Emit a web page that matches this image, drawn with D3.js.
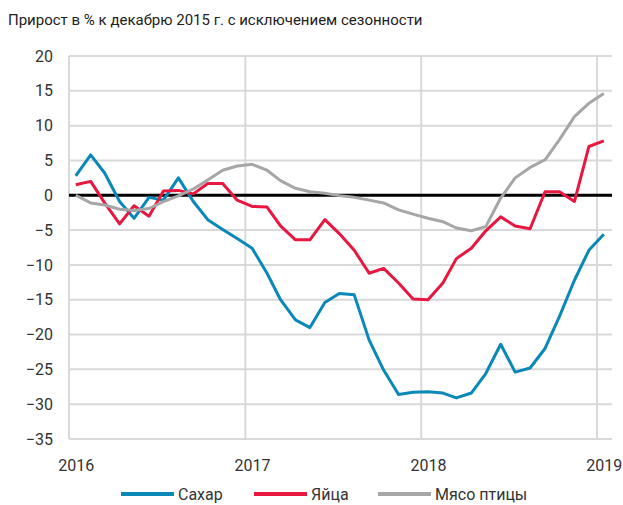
<!DOCTYPE html>
<html>
<head>
<meta charset="utf-8">
<script src="https://cdn.jsdelivr.net/npm/d3@7"></script>
<style>
  body { margin: 0; background: #fff; }
  svg { display: block; font-family: Roboto, "Noto Sans", sans-serif; }
</style>
</head>
<body>
<div id="chart"></div>
<script>
// monthly points, Jan 2016 .. Jan 2019
const months = d3.range(37).map(i => new Date(2016, i, 15));

const sugar = [2.8, 5.8, 3.2, -0.9, -3.3, -0.3, -0.7, 2.5, -0.9, -3.5, -4.9, -6.2,
  -7.6, -11.2, -15.0, -17.9, -19.0, -15.4, -14.1, -14.3, -20.8, -25.1, -28.6, -28.3,
  -28.2, -28.4, -29.1, -28.4, -25.6, -21.4, -25.4, -24.8, -22.0, -17.4, -12.2, -7.9, -5.6];
const eggs = [1.5, 2.0, -1.1, -4.1, -1.5, -3.0, 0.6, 0.7, 0.2, 1.7, 1.7, -0.7,
  -1.6, -1.7, -4.4, -6.4, -6.4, -3.5, -5.5, -7.9, -11.2, -10.5, -12.6, -14.9,
  -15.0, -12.6, -9.1, -7.6, -5.1, -3.1, -4.4, -4.8, 0.5, 0.5, -0.9, 7.0, 7.8];
const poultry = [0.0, -1.1, -1.4, -2.0, -2.2, -1.9, -0.9, -0.1, 0.9, 2.2, 3.6, 4.2,
  4.45, 3.6, 2.1, 1.0, 0.5, 0.3, -0.05, -0.3, -0.7, -1.1, -2.1, -2.7,
  -3.3, -3.8, -4.7, -5.1, -4.5, -0.4, 2.5, 4.0, 5.1, 8.0, 11.3, 13.2, 14.6];

const seriesNames = ["Сахар", "Яйца", "Мясо птицы"];
const seriesColors = ["#0a88b8", "#e8173f", "#a6a6a6"];
const yTicks = d3.range(-35, 21, 5);
const yearLabels = [2016, 2017, 2018, 2019];
const title = "Прирост в % к декабрю 2015 г. с исключением сезонности";

const W = 623, H = 505;
const margin = { top: 56, right: 11, bottom: 66, left: 69 };

const svg = d3.select("#chart").append("svg")
  .attr("width", W)
  .attr("height", H);

const x = d3.scaleTime()
  .domain([new Date(2016, 0, 1), new Date(2019, 1, 1)])
  .range([margin.left, W - margin.right]);

const y = d3.scaleLinear()
  .domain([-35, 20])
  .range([H - margin.bottom, margin.top]);

// title
svg.append("text")
  .attr("x", 8)
  .attr("y", 25)
  .attr("font-size", 15)
  .attr("fill", "#222")
  .text(title);

// horizontal grid
svg.append("g")
  .selectAll("line")
  .data(yTicks)
  .join("line")
  .attr("x1", margin.left)
  .attr("x2", W - margin.right)
  .attr("y1", d => y(d))
  .attr("y2", d => y(d))
  .attr("stroke", "#d9d9d9")
  .attr("stroke-width", 2);

// vertical grid at year starts
svg.append("g")
  .selectAll("line")
  .data(yearLabels)
  .join("line")
  .attr("x1", d => x(new Date(d, 0, 1)))
  .attr("x2", d => x(new Date(d, 0, 1)))
  .attr("y1", y(20))
  .attr("y2", y(-35))
  .attr("stroke", "#d9d9d9")
  .attr("stroke-width", 2);

// zero line
svg.append("line")
  .attr("x1", margin.left)
  .attr("x2", W - margin.right)
  .attr("y1", y(0))
  .attr("y2", y(0))
  .attr("stroke", "#000")
  .attr("stroke-width", 3);

// y axis labels
const yAxis = svg.append("g")
  .attr("transform", `translate(${margin.left - 8},0)`)
  .call(d3.axisLeft(y).tickValues(yTicks).tickSize(0).tickPadding(8));
yAxis.select(".domain").remove();
yAxis.selectAll("text")
  .attr("font-size", 16)
  .attr("font-family", "Roboto, sans-serif")
  .attr("fill", "#333");

// x axis labels (centred on January points)
const xAxis = svg.append("g")
  .attr("transform", `translate(0,${H - margin.bottom + 18})`)
  .call(d3.axisBottom(x)
    .tickValues(yearLabels.map(d => new Date(d, 0, 15)))
    .tickFormat(d3.timeFormat("%Y"))
    .tickSize(0));
xAxis.select(".domain").remove();
xAxis.selectAll("text")
  .attr("font-size", 16)
  .attr("font-family", "Roboto, sans-serif")
  .attr("fill", "#333");

// lines
const line = d3.line()
  .x((d, i) => x(months[i]))
  .y(d => y(d));

[sugar, eggs, poultry].forEach((vals, k) => {
  svg.append("path")
    .datum(vals)
    .attr("fill", "none")
    .attr("stroke", seriesColors[k])
    .attr("stroke-width", 3)
    .attr("stroke-linejoin", "round")
    .attr("d", line);
});

// legend
const legendX = [121, 254, 378];
const legend = svg.append("g").attr("transform", "translate(0,494)");
seriesNames.forEach((name, k) => {
  legend.append("line")
    .attr("x1", legendX[k])
    .attr("x2", legendX[k] + 53)
    .attr("y1", 0)
    .attr("y2", 0)
    .attr("stroke", seriesColors[k])
    .attr("stroke-width", 4);
  legend.append("text")
    .attr("x", legendX[k] + 57)
    .attr("y", 6)
    .attr("font-size", 16)
    .attr("fill", "#333")
    .text(name);
});
</script>
</body>
</html>
